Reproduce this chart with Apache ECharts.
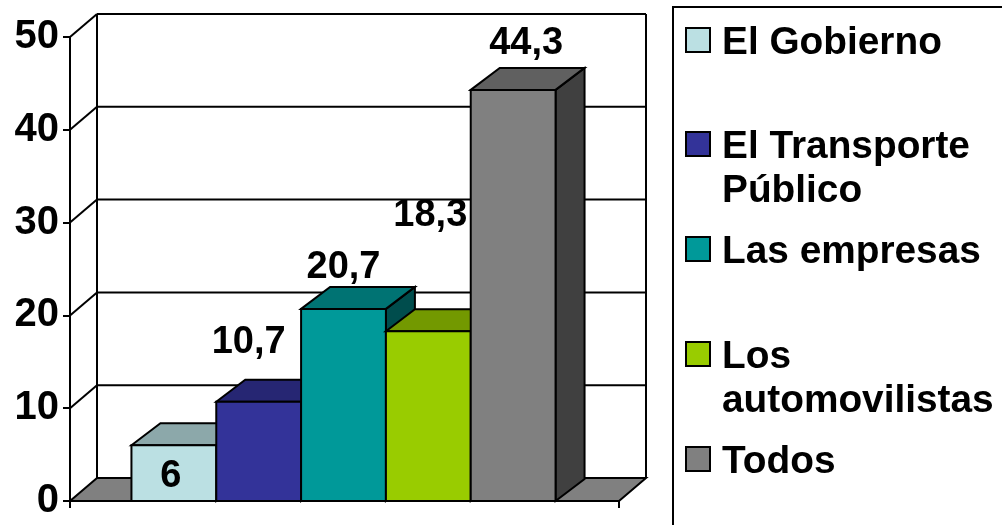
<!DOCTYPE html>
<html><head><meta charset="utf-8">
<style>html,body{margin:0;padding:0;background:#fff}#c{width:1002px;height:525px}</style>
<script src="https://cdn.jsdelivr.net/npm/echarts@6/dist/echarts.min.js"></script>
</head><body><div id="c"></div>
<script>
const seriesNames = ['El Gobierno', 'El Transporte\nPúblico', 'Las empresas', 'Los\nautomovilistas', 'Todos'];
const values = [6, 10.7, 20.7, 18.3, 44.3];
const valueLabels = ['6', '10,7', '20,7', '18,3', '44,3'];
const frontColors = ['#BBE0E3', '#333399', '#009999', '#99CC00', '#808080'];
const topColors = ['#8CA8AA', '#262673', '#007373', '#739900', '#606060'];
const sideColors = ['#5E7072', '#1A1A4D', '#004D4D', '#4D6600', '#404040'];
const labelOffsets = [[-3, 31], [-10, -59], [0, -41], [2, -116], [13, -46]];
const yTicks = [0, 10, 20, 30, 40, 50];
const legendCentres = [40, 144, 249, 354, 459];

const FONT = '"Liberation Sans", Arial, sans-serif';
const FS = 38, AXIS_FS = 40, LEGEND_FS = 38.8, LH = 44;
const WALL_DX = 27, WALL_DY = -23, BAR_DX = 29, BAR_DY = -22;
const line = {stroke: '#000', lineWidth: 2, fill: null};

function poly(points, fill) {
  return {type: 'polygon', shape: {points}, style: {fill, stroke: '#000', lineWidth: 2, lineJoin: 'miter'}};
}
function renderWalls(params, api) {
  const v = api.value(0);
  const cs = params.coordSys;
  const y = api.coord([0, v])[1];
  const l = cs.x, r = cs.x + cs.width;
  const children = [];
  if (v === 0) {
    children.push(poly([[l, y], [l + WALL_DX, y + WALL_DY], [r + WALL_DX, y + WALL_DY], [r, y]], '#808080'));
    const top = api.coord([0, 50])[1] + WALL_DY;
    children.push({type: 'line', shape: {x1: l + WALL_DX, y1: y + WALL_DY, x2: l + WALL_DX, y2: top}, style: line});
    children.push({type: 'line', shape: {x1: r + WALL_DX, y1: y + WALL_DY, x2: r + WALL_DX, y2: top}, style: line});
  } else {
    children.push({type: 'line', shape: {x1: l, y1: y, x2: l + WALL_DX, y2: y + WALL_DY}, style: line});
    children.push({type: 'line', shape: {x1: l + WALL_DX, y1: y + WALL_DY, x2: r + WALL_DX, y2: y + WALL_DY}, style: line});
  }
  return {type: 'group', children};
}
function renderBar(i) {
  return function (params, api) {
    const top = api.coord([0, api.value(1)]);
    const base = api.coord([0, 0]);
    const band = api.size([1, 0])[0];
    const w = band * 0.1545;
    const x0 = top[0] - 1 + (i - 2.5) * w;
    const x1 = x0 + w;
    const yT = top[1], yB = base[1];
    const o = labelOffsets[i];
    return {type: 'group', children: [
      poly([[x1, yB], [x1 + BAR_DX, yB + BAR_DY], [x1 + BAR_DX, yT + BAR_DY], [x1, yT]], sideColors[i]),
      poly([[x0, yT], [x0 + BAR_DX, yT + BAR_DY], [x1 + BAR_DX, yT + BAR_DY], [x1, yT]], topColors[i]),
      {type: 'rect', shape: {x: x0, y: yT, width: w, height: yB - yT}, style: {fill: frontColors[i], stroke: '#000', lineWidth: 2}},
      {type: 'text', z2: 50, style: {text: valueLabels[i], x: (x0 + x1) / 2 + o[0], y: yT + o[1],
        align: 'center', verticalAlign: 'middle', fill: '#000', font: 'bold ' + FS + 'px ' + FONT}}
    ]};
  };
}

const chart = echarts.init(document.getElementById('c'), null, {renderer: 'canvas'});
chart.setOption({
  animation: false,
  backgroundColor: '#fff',
  grid: {left: 70, right: 383, top: 37, bottom: 24, containLabel: false},
  xAxis: {type: 'category', data: [''], boundaryGap: true,
    axisLine: {lineStyle: {color: '#000', width: 2}},
    axisTick: {show: true, length: 7, lineStyle: {color: '#000', width: 2}},
    axisLabel: {show: false}},
  yAxis: {type: 'value', min: 0, max: 50, interval: 10,
    axisLine: {show: true, lineStyle: {color: '#000', width: 2}},
    axisTick: {show: true, length: 7, lineStyle: {color: '#000', width: 2}},
    splitLine: {show: false},
    axisLabel: {color: '#000', fontFamily: FONT, fontWeight: 'bold', fontSize: AXIS_FS, margin: 11, padding: [5, 0, 0, 0]}},
  legend: seriesNames.map((n, i) => {
    const two = n.indexOf('\n') >= 0;
    return {
      data: [n], orient: 'vertical', left: 685, top: legendCentres[i] + 3 - (two ? 66 : 22),
      padding: 0, icon: 'path://M0 0H30V30H0ZM0 37.5L0 37.5', symbolKeepAspect: true,
      itemWidth: 38, itemHeight: 30, itemGap: 0, selectedMode: false,
      formatter: name => (name.indexOf('\n') >= 0 ? '\n' + name : name),
      itemStyle: {borderColor: '#000', borderWidth: 2},
      textStyle: {color: '#000', fontFamily: FONT, fontWeight: 'bold', fontSize: LEGEND_FS, lineHeight: LH}
    };
  }),
  series: [
    {type: 'custom', name: '__walls', data: yTicks.map(v => [v]), renderItem: renderWalls, silent: true, z: 1,
      encode: {y: 0}, clip: false},
    ...seriesNames.map((n, i) => ({
      type: 'custom', name: n, data: [[0, values[i]]], renderItem: renderBar(i), z: 2 + i,
      encode: {x: 0, y: 1}, clip: false, itemStyle: {color: frontColors[i]}
    }))
  ],
  graphic: [{type: 'rect', x: 0, y: 0, shape: {x: 673, y: 7, width: 400, height: 600},
    style: {fill: 'none', stroke: '#000', lineWidth: 2}, silent: true, z: -1}]
});
</script></body></html>
